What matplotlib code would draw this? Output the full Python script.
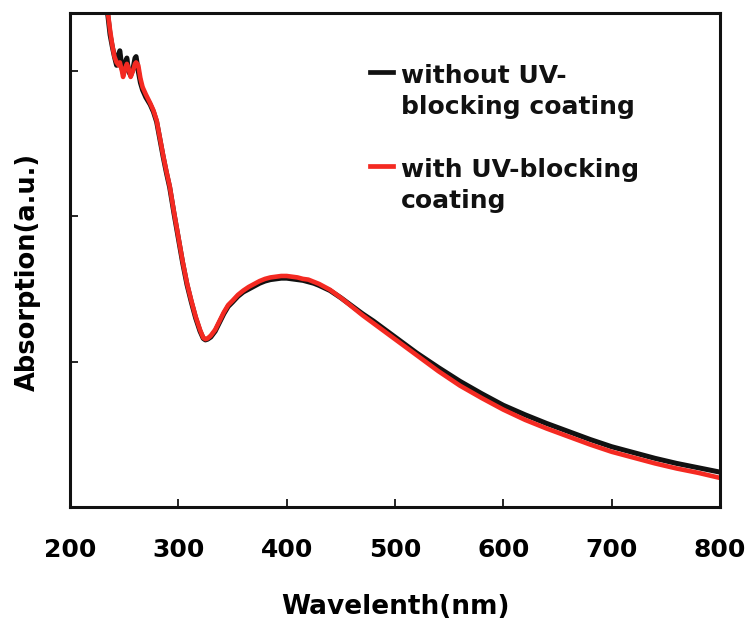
import matplotlib
matplotlib.use("Agg")
import matplotlib.pyplot as plt

# Absorption spectra (arbitrary units) vs wavelength (nm)
wl_without = [232, 235, 237, 239, 241, 243, 245, 246, 248, 249, 251, 252.5, 254, 256,
              258, 260, 261, 263, 265, 267, 270, 274, 277, 280, 283, 286, 289, 292,
              296, 300, 304, 308, 312, 316, 320, 323, 325, 327, 330, 334, 338, 342,
              346, 350, 355, 360, 365, 370, 375, 380, 385, 390, 395, 400, 405, 410,
              415, 420, 425, 430, 440, 450, 460, 470, 480, 490, 500, 520, 540, 560,
              580, 600, 620, 640, 660, 680, 700, 720, 740, 760, 780, 800]
abs_without = [3.55, 3.38, 3.25, 3.17, 3.10, 3.04, 3.12, 3.14, 3.02, 2.99, 3.06, 3.09,
               3.00, 2.97, 3.01, 3.09, 3.10, 3.00, 2.92, 2.87, 2.82, 2.77, 2.72, 2.65,
               2.53, 2.41, 2.30, 2.20, 2.02, 1.85, 1.68, 1.53, 1.41, 1.30, 1.21, 1.16,
               1.15, 1.155, 1.17, 1.21, 1.27, 1.33, 1.38, 1.41, 1.45, 1.48, 1.50, 1.52,
               1.54, 1.555, 1.565, 1.57, 1.575, 1.575, 1.57, 1.565, 1.56, 1.55, 1.54,
               1.525, 1.49, 1.44, 1.385, 1.33, 1.28, 1.225, 1.17, 1.06, 0.96, 0.865,
               0.78, 0.70, 0.635, 0.575, 0.52, 0.465, 0.415, 0.375, 0.335, 0.30, 0.27,
               0.24]

wl_with = wl_without
abs_with = [3.55, 3.40, 3.28, 3.18, 3.10, 3.06, 3.04, 3.06, 3.00, 2.96, 3.02, 3.05,
            3.02, 2.96, 3.00, 3.05, 3.06, 3.04, 2.95, 2.89, 2.84, 2.78, 2.73, 2.66,
            2.54, 2.42, 2.31, 2.21, 2.03, 1.86, 1.69, 1.54, 1.42, 1.31, 1.22, 1.165,
            1.155, 1.16, 1.18, 1.22, 1.28, 1.34, 1.39, 1.42, 1.46, 1.49, 1.515, 1.535,
            1.555, 1.57, 1.58, 1.585, 1.59, 1.59, 1.585, 1.58, 1.57, 1.565, 1.55,
            1.535, 1.495, 1.44, 1.38, 1.32, 1.265, 1.21, 1.155, 1.045, 0.935, 0.835,
            0.75, 0.67, 0.60, 0.54, 0.485, 0.43, 0.38, 0.34, 0.30, 0.265, 0.235, 0.20]

x_ticks = [200, 300, 400, 500, 600, 700, 800]
y_ticks = [1, 2, 3]

label_without = ["without UV-", "blocking coating"]
label_with = ["with UV-blocking", "coating"]

plt.rcParams["font.family"] = ["DejaVu Sans"]
plt.rcParams["font.weight"] = "bold"

fig = plt.figure(figsize=(7.52, 6.26), dpi=100)
ax = fig.add_axes([70 / 752, 119 / 626, 650 / 752, 494 / 626])

ax.plot(wl_without, abs_without, color="#111111", lw=3.6, solid_capstyle="round",
        solid_joinstyle="round")
ax.plot(wl_with, abs_with, color="#f42a22", lw=3.3, solid_capstyle="round",
        solid_joinstyle="round")

ax.set_xlim(200, 800)
ax.set_ylim(0, 3.4)
ax.set_xticks(x_ticks)
ax.set_xticklabels([str(t) for t in x_ticks], fontsize=18, fontweight="bold")
ax.set_yticks(y_ticks)
ax.set_yticklabels([])
ax.tick_params(axis="x", direction="in", length=6, width=1.2, pad=22)
ax.tick_params(axis="y", direction="in", length=6, width=1.2)

for sp in ax.spines.values():
    sp.set_linewidth(2.2)
    sp.set_color("#111111")

ax.set_xlabel("Wavelenth(nm)", fontsize=19, fontweight="bold", labelpad=23)
ax.set_ylabel("Absorption(a.u.)", fontsize=18.5, fontweight="bold")
ax.yaxis.set_label_coords(-0.045, 0.476)

# Legend drawn in axes coordinates
def axx(px):
    return (px - 70) / 650

def axy(py):
    return (507 - py) / 494

for color, lines, y0 in [("#111111", label_without, 72), ("#f42a22", label_with, 166)]:
    ax.plot([axx(370), axx(393)], [axy(y0), axy(y0)], transform=ax.transAxes,
            color=color, lw=3.4, clip_on=False)
    for i, txt in enumerate(lines):
        ax.text(axx(401), axy(y0 + 11 + 31 * i), txt, transform=ax.transAxes,
                fontsize=18, fontweight="bold", ha="left", va="baseline",
                color="#111111")

fig.savefig("out.png", dpi=100)
